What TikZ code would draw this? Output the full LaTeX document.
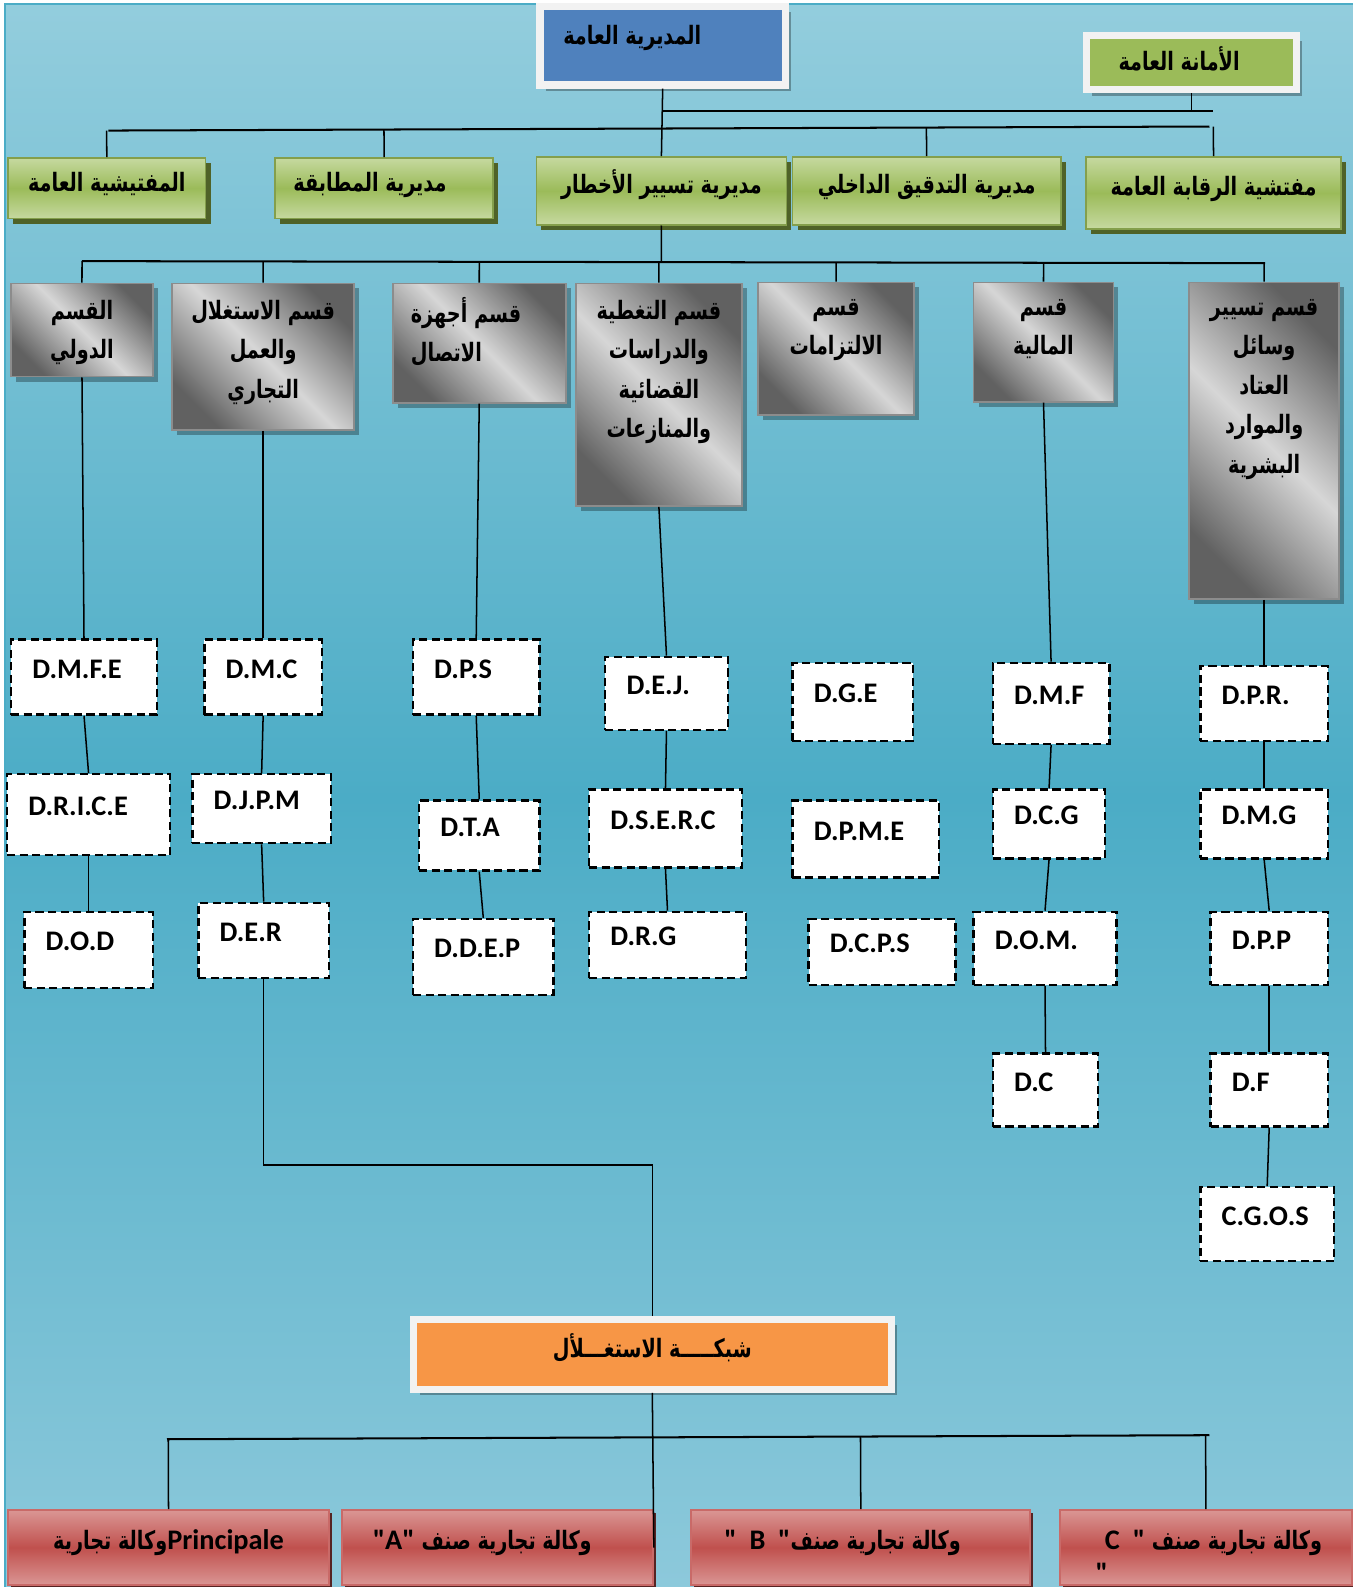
\documentclass[tikz,border=0pt]{standalone}
\usepackage{fontspec}
\setmainfont{Carlito}
\newfontfamily\latinfont{Carlito}
\newfontfamily\arabicfont[Script=Arabic, FakeStretch=0.76]{DejaVu Sans}
\TeXXeTstate=1
\usetikzlibrary{positioning,shadows,calc}

\definecolor{bgtop}{HTML}{93CDDD}
\definecolor{bgmid}{HTML}{4BACC6}
\definecolor{bgbot}{HTML}{8DC9DB}
\definecolor{framegray}{HTML}{F2F2F2}
\definecolor{dgblue}{HTML}{4F81BD}
\definecolor{olive}{HTML}{9BBB59}
\definecolor{olivelight}{HTML}{C6D9A0}
\definecolor{olivedark}{HTML}{4F6228}
\definecolor{redmain}{HTML}{C0504D}
\definecolor{redlight}{HTML}{DA9694}
\definecolor{orng}{HTML}{F79646}

\newcommand{\artxt}[1]{{\arabicfont\bfseries\beginR #1\endR}}
\newcommand{\latxt}[1]{{\latinfont\bfseries\fontsize{14}{16}\selectfont #1}}

\begin{document}
\begin{tikzpicture}[x=0.5pt, y=-0.5pt,
  every node/.style={inner sep=0pt},
  link/.style={line width=0.75pt},
  bus/.style={line width=1pt},
  framed/.style={draw=framegray, line width=3.5pt, outer sep=1.75pt,
    drop shadow={shadow xshift=3pt, shadow yshift=-3pt, fill=black, opacity=.3},
    font=\fontsize{12.5}{14}\selectfont},
  grnbox/.style={draw=olive!85!black, line width=0.8pt,
    top color=olivelight, bottom color=olivelight, middle color=olive,
    drop shadow={shadow xshift=2.5pt, shadow yshift=-2.5pt, fill=olivedark, opacity=1},
    font=\fontsize{12.5}{14}\selectfont, text height=11pt, text depth=8pt},
  gbox/.style={draw=black!45, line width=0.8pt,
    top color=black!62, bottom color=black!62, middle color=black!16, shading angle=-45,
    drop shadow={shadow xshift=2.5pt, shadow yshift=-2.5pt, fill=black, opacity=.3}},
  gtext/.style={align=center, font=\fontsize{12.5}{19.5}\selectfont},
  dbox/.style={draw, fill=white, line width=1.2pt, dash pattern=on 4pt off 2.2pt,
    text width=#1, align=left, inner xsep=10.5pt,
    font=\bfseries\fontsize{14}{16}\selectfont, text height=10pt, text depth=9pt},
  redbox/.style={draw=redmain!85!white, line width=1pt,
    top color=redlight, bottom color=redlight, middle color=redmain,
    drop shadow={shadow xshift=1.5pt, shadow yshift=-1.5pt, fill=redmain!45!black, opacity=1},
    minimum height=37pt, font=\fontsize{12.5}{15}\selectfont, text height=11pt, text depth=9.5pt}
]
\useasboundingbox (0,0) rectangle (1336,1568);
% background
\shade[top color=bgtop, bottom color=bgbot, middle color=bgmid] (5,4) rectangle (1340,1572);
\draw[bgmid, line width=1pt] (5,1572) -- (5,4) -- (1340,4);

% top level
\node[framed, fill=dgblue, minimum width=121.25pt, minimum height=39pt,
  text height=11pt, text depth=12pt] (dg) at (654.75,45) {\artxt{المديرية العامة}\hspace*{30pt}};
\node[framed, fill=olive, minimum width=103.75pt, minimum height=26.75pt,
  text height=11pt, text depth=3pt] (amana) at (1177,61.75) {\artxt{الأمانة العامة}\hspace*{12pt}};

% directorates
\node[grnbox, minimum width=97.5pt, minimum height=30pt] (mufattish) at (105.5,186) {\artxt{المفتيشية العامة}};
\node[grnbox, minimum width=107.5pt, minimum height=30pt] (mutabaqa) at (379.5,186) {\artxt{مديرية المطابقة}\hspace*{14pt}};
\node[grnbox, minimum width=123.5pt, minimum height=33.5pt] (akhtar) at (653.5,188.5) {\artxt{مديرية تسيير الأخطار}};
\node[grnbox, minimum width=132.5pt, minimum height=33.5pt] (tadqiq) at (915.5,188.5) {\artxt{مديرية التدقيق الداخلي}};
\node[grnbox, minimum width=126pt, minimum height=35.5pt] (riqaba) at (1199,190.5) {\artxt{مفتشية الرقابة العامة}};

% departments
\node[gbox, minimum width=70pt, minimum height=46pt] (dawli) at (81,326) {};
\node[gbox, minimum width=90pt, minimum height=72.5pt] (istighlal) at (260,352.5) {};
\node[gbox, minimum width=85.5pt, minimum height=59pt] (ajhiza) at (473.5,339) {};
\node[gbox, minimum width=82pt, minimum height=110pt] (taghtiya) at (651,390) {};
\node[gbox, minimum width=77pt, minimum height=65.5pt] (iltizam) at (826,344.5) {};
\node[gbox, minimum width=69pt, minimum height=59pt] (maliya) at (1031,338) {};
\node[gbox, minimum width=74pt, minimum height=156.5pt] (tasyir) at (1249,435.5) {};

\node[gtext, below=8.5pt of dawli.north] (tdawli) {\artxt{القسم}\\\artxt{الدولي}};
\node[gtext, below=8.5pt of istighlal.north] (tistighlal) {\artxt{قسم الاستغلال}\\\artxt{والعمل}\\\artxt{التجاري}};
\node[gtext, align=left, below=7pt of ajhiza.north, xshift=-6.5pt] (tajhiza) {\artxt{قسم أجهزة}\\\artxt{الاتصال}};
\node[gtext, below=8.5pt of taghtiya.north] (ttaghtiya) {\artxt{قسم التغطية}\\\artxt{والدراسات}\\\artxt{القضائية}\\\artxt{والمنازعات}};
\node[gtext, below=8.5pt of iltizam.north] (tiltizam) {\artxt{قسم}\\\artxt{الالتزامات}};
\node[gtext, below=8.5pt of maliya.north] (tmaliya) {\artxt{قسم}\\\artxt{المالية}};
\node[gtext, below=8.5pt of tasyir.north] (ttasyir) {\artxt{قسم تسيير}\\\artxt{وسائل}\\\artxt{العتاد}\\\artxt{والموارد}\\\artxt{البشرية}};

% sub-directorates
\node[dbox=51pt, minimum height=37pt] (dmfe) at (83,669) {D.M.F.E};
\node[dbox=59.5pt, minimum height=40pt] (drice) at (87.5,805) {D.R.I.C.E};
\node[dbox=42.5pt, minimum height=37.5pt] (dod) at (87.5,938.5) {D.O.D};
\node[dbox=37pt, minimum height=37pt] (dmc) at (260,669) {D.M.C};
\node[dbox=47.5pt, minimum height=34pt] (djpm) at (258.5,799) {D.J.P.M};
\node[dbox=43.5pt, minimum height=37pt] (der) at (260.5,929) {D.E.R};
\node[dbox=41.5pt, minimum height=37pt] (dps) at (470.5,669) {D.P.S};
\node[dbox=38.5pt, minimum height=34.5pt] (dta) at (473.5,825.5) {D.T.A};
\node[dbox=48.5pt, minimum height=37.5pt] (ddep) at (477.5,945.5) {D.D.E.P};
\node[dbox=39.5pt, minimum height=36pt] (dej) at (658.5,685) {D.E.J.};
\node[dbox=54.5pt, minimum height=38.5pt] (dserc) at (657.5,818.5) {D.S.E.R.C};
\node[dbox=56.5pt, minimum height=32.5pt] (drg) at (659.5,933.5) {D.R.G};
\node[dbox=38.5pt, minimum height=38.5pt] (dge) at (842.5,693.5) {D.G.E};
\node[dbox=51.5pt, minimum height=38pt] (dpme) at (855.5,829) {D.P.M.E};
\node[dbox=51.5pt, minimum height=32.5pt] (dcps) at (871.5,940.5) {D.C.P.S};
\node[dbox=36.5pt, minimum height=40pt] (dmf) at (1038.5,695) {D.M.F};
\node[dbox=34.5pt, minimum height=34pt] (dcg) at (1036.5,814) {D.C.G};
\node[dbox=49.5pt, minimum height=36pt] (dom) at (1032.5,937) {D.O.M.};
\node[dbox=31pt, minimum height=36pt] (dc) at (1033,1077) {D.C};
\node[dbox=42pt, minimum height=37pt] (dpr) at (1249,695) {D.P.R.};
\node[dbox=42pt, minimum height=34pt] (dmg) at (1249,814) {D.M.G};
\node[dbox=37pt, minimum height=36pt] (dpp) at (1254,937) {D.P.P};
\node[dbox=37pt, minimum height=36pt] (df) at (1254,1077) {D.F};
\node[dbox=45pt, minimum height=36.5pt] (cgos) at (1252,1209.5) {C.G.O.S};

% network and agencies
\node[framed, fill=orng, minimum width=236pt, minimum height=34.75pt,
  text height=11pt, text depth=7.5pt] (reseau) at (644.5,1338) {\artxt{شبكـــــة الاستغـــلأل}};
\node[redbox, minimum width=158.5pt] (agp) at (166.5,1529) {\artxt{\beginL\latxt{Principale}\endL وكالة تجارية}};
\node[redbox, minimum width=153.5pt] (aga) at (491.5,1529) {\artxt{وكالة تجارية صنف \beginL\latxt{"A"}\endL}\hspace*{15pt}};
\node[redbox, minimum width=167.5pt] (agb) at (850.5,1529) {\artxt{وكالة تجارية صنف\beginL\latxt{"\ \ B\ \ "}\endL}\hspace*{18pt}};
\node[redbox, minimum width=144.5pt] (agc) at (1191.5,1529) {\hspace*{7.5pt}\artxt{وكالة تجارية صنف \beginL\latxt{C\ \ "}\endL}};
\node[anchor=north west] (agcq) at ($(agc.west)+(36,15)$) {\latxt{"}};

% connectors
\coordinate (b1w) at (654,110);
\coordinate (b1e) at (1198,110);
\coordinate (b2w) at (107,129);
\coordinate (b2e) at (1195,125);
\draw[link] (dg.south) -- (akhtar.north);
\draw[bus] (b1w) -- (b1e);
\draw[link] (amana.south) -- (amana.south |- b1w);
\draw[bus] (b2w) -- (b2e);
\foreach \g in {mufattish,mutabaqa,tadqiq,riqaba}
  \draw[link] ($(b2w)!(\g.north)!(b2e)$) -- (\g.north);

\coordinate (b3w) at (81,258);
\coordinate (b3e) at (1250,260);
\draw[link] (akhtar.south) -- ($(b3w)!(akhtar.south)!(b3e)$);
\draw[bus] (b3w) -- (b3e);
\foreach \g in {dawli,istighlal,ajhiza,taghtiya,iltizam,maliya,tasyir}
  \draw[link] ($(b3w)!(\g.north)!(b3e)$) -- (\g.north);

\foreach \a/\b in {dawli/dmfe, dmfe/drice, drice/dod, istighlal/dmc, dmc/djpm, djpm/der,
  ajhiza/dps, dps/dta, dta/ddep, taghtiya/dej, dej/dserc, dserc/drg,
  maliya/dmf, dmf/dcg, dcg/dom, dom/dc,
  tasyir/dpr, dpr/dmg, dmg/dpp, dpp/df, df/cgos}
  \draw[link] (\a.south) -- (\b.north);

\coordinate (jog) at (644.5,1151);
\draw[link] (der.south) |- (jog) -- (reseau.north);
\draw[link] (reseau.south) -- (aga.east);
\coordinate (b4w) at (165,1422);
\coordinate (b4e) at (1195,1418);
\draw[bus] (b4w) -- (b4e);
\foreach \g in {agp,agb,agc}
  \draw[link] ($(b4w)!(\g.north)!(b4e)$) -- (\g.north);
\end{tikzpicture}
\end{document}
